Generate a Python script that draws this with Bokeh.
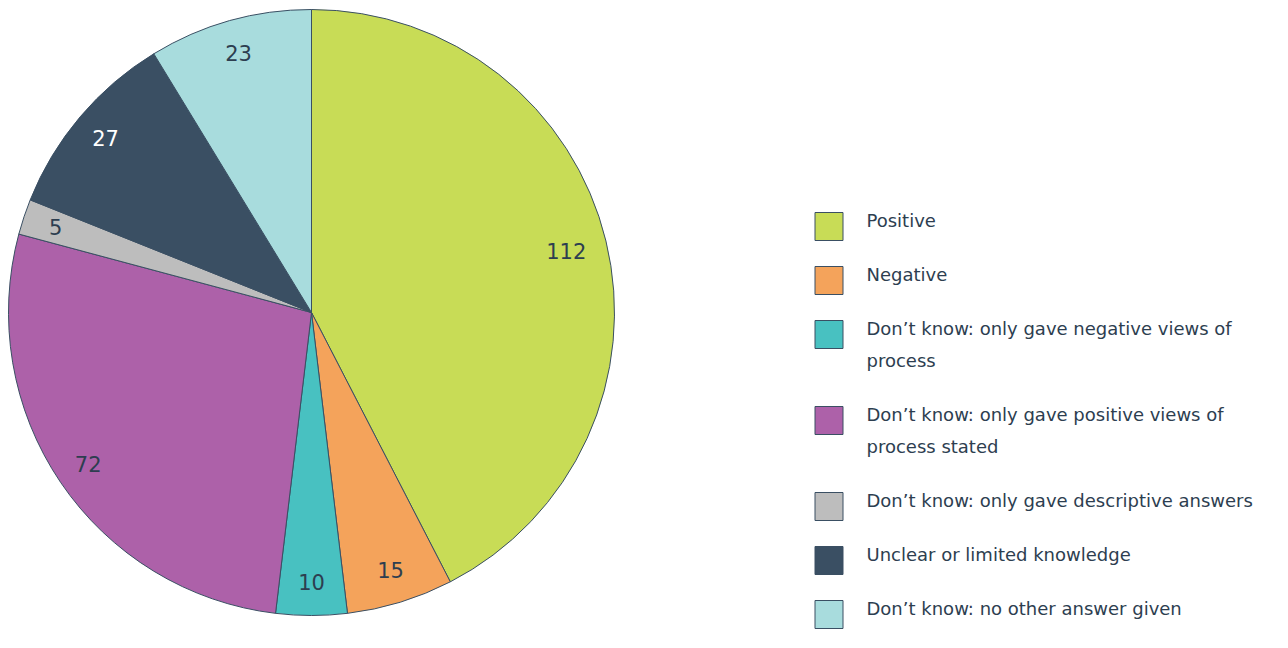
import math
from bokeh.plotting import figure
from bokeh.models import ColumnDataSource, Range1d
from bokeh.core.properties import value
from bokeh.embed import file_html
from bokeh.resources import INLINE

categories = [
    "Positive",
    "Negative",
    "Don\u2019t know: only gave negative views of\nprocess",
    "Don\u2019t know: only gave positive views of\nprocess stated",
    "Don\u2019t know: only gave descriptive answers",
    "Unclear or limited knowledge",
    "Don\u2019t know: no other answer given",
]
values = [112, 15, 10, 72, 5, 27, 23]
palette = ["#c8dc56", "#f4a35b", "#48c1c1", "#ad61a9", "#bdbdbd", "#3a4f63", "#a8dcdd"]
label_colors = ["#2d3e50", "#2d3e50", "#2d3e50", "#2d3e50", "#2d3e50", "#ffffff", "#2d3e50"]

W, H = 1272, 632
FONT = "DejaVu Sans"
TXT = "#2d3e50"

p = figure(width=W, height=H, output_backend="svg", toolbar_location=None,
           x_range=Range1d(0, W), y_range=Range1d(0, H), min_border=0)
p.axis.visible = False
p.grid.visible = False
p.outline_line_color = None
p.background_fill_color = "white"

cx, cy, R = 311, H - 312, 303
total = sum(values)
starts, ends, lx, ly = [], [], [], []
cum = 0
for v in values:
    a0 = math.pi / 2 - 2 * math.pi * cum / total
    a1 = math.pi / 2 - 2 * math.pi * (cum + v) / total
    starts.append(a0)
    ends.append(a1)
    mid = (a0 + a1) / 2
    f = 0.865 if v > 100 else 0.89
    lx.append(cx + f * R * math.cos(mid))
    ly.append(cy + f * R * math.sin(mid))
    cum += v

src = ColumnDataSource(dict(start=starts, end=ends, color=palette,
                            lx=lx, ly=ly, txt=[str(v) for v in values],
                            tcol=label_colors))
p.wedge(x=cx, y=cy, radius=R, start_angle="start", end_angle="end",
        direction="clock", fill_color="color", line_color="#3a4f63",
        line_width=1, source=src)
p.text(x="lx", y="ly", text="txt", text_color="tcol", text_font=value(FONT),
       text_font_size="21px", text_align="center", text_baseline="middle",
       source=src)

# legend
sq_x, sq_size = 828.5, 28
text_x = 866
y = 226
gap_item = 54
line_h = 32
bx, by, tx, ty, tt = [], [], [], [], []
for i, c in enumerate(categories):
    lines = c.split("\n")
    bx.append(sq_x)
    by.append(H - y)
    for j, ln in enumerate(lines):
        tx.append(text_x)
        ty.append(H - (y - 6 + j * line_h))
        tt.append(ln)
    y += gap_item + (len(lines) - 1) * line_h
p.rect(x=bx, y=by, width=sq_size, height=sq_size, fill_color=palette,
       line_color="#3a4f63", line_width=1)
p.text(x=tx, y=ty, text=tt, text_color=TXT, text_font=value(FONT),
       text_font_size="18px", text_align="left", text_baseline="middle")

open("out.html", "w").write(file_html(p, INLINE))
